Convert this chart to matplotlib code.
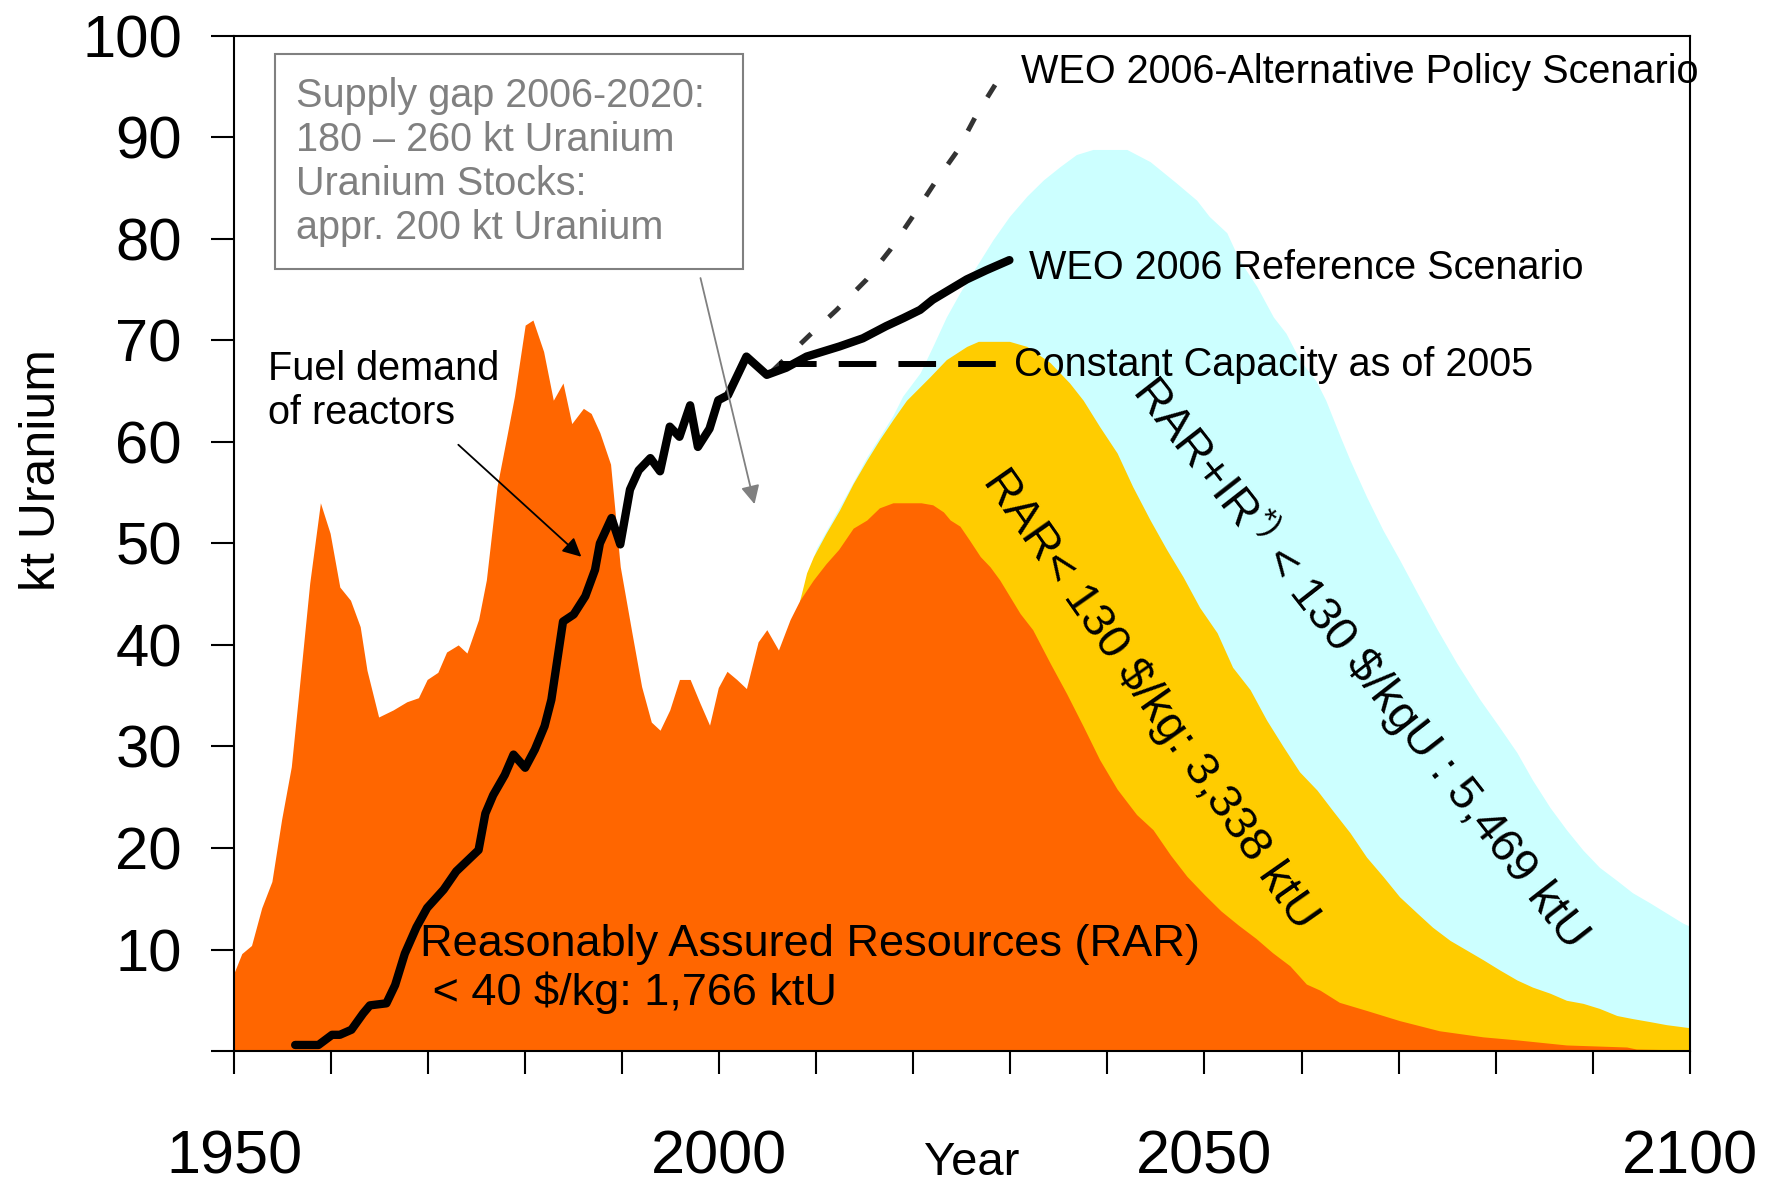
import numpy as np
import matplotlib
matplotlib.use("Agg")
import matplotlib.pyplot as plt
from matplotlib.patches import Rectangle

plt.rcParams['font.family'] = ['Liberation Sans', 'DejaVu Sans']
plt.rcParams['mathtext.fontset'] = 'custom'
plt.rcParams['mathtext.rm'] = 'Liberation Sans'
plt.rcParams['mathtext.it'] = 'Liberation Sans'

# historical uranium production (kt U)
hist_years = [1950.0, 1950.8, 1951.8, 1952.85, 1953.9, 1954.9, 1955.9, 1956.6, 1957.8, 1958.9,
              1959.9, 1960.9, 1962.0, 1963.0, 1963.7, 1964.9, 1966.4, 1967.8, 1969.0, 1969.9,
              1971.0, 1971.9, 1973.1, 1974.0, 1975.2, 1976.0, 1977.1, 1978.1, 1978.9, 1980.0,
              1980.8, 1981.9, 1982.9, 1983.9, 1984.8, 1986.0, 1986.8, 1987.7, 1988.8, 1989.8,
              1991.0, 1992.0, 1993.0, 1993.9, 1994.9, 1995.9, 1997.0, 1998.0, 1999.0, 1999.9,
              2000.8, 2001.8, 2002.8, 2004.0, 2004.9, 2006.1, 2007.3]
hist_vals = [7.7, 9.6, 10.4, 14.1, 16.7, 22.8, 28.0, 34.6, 46.1, 54.0,
             51.0, 45.7, 44.4, 41.8, 37.5, 32.9, 33.6, 34.4, 34.8, 36.6,
             37.3, 39.3, 40.0, 39.2, 42.5, 46.4, 55.6, 60.5, 64.5, 71.5,
             72.0, 68.9, 64.1, 65.8, 61.8, 63.3, 62.8, 60.9, 57.8, 47.7,
             41.2, 35.9, 32.4, 31.6, 33.6, 36.6, 36.6, 34.3, 32.1, 35.8,
             37.4, 36.6, 35.7, 40.3, 41.5, 39.5, 42.5]

# RAR < 40 $/kg production profile
rar40_years = [2008.3, 2009.7, 2011.0, 2012.3, 2013.8, 2015.2, 2016.5, 2017.9, 2020.8, 2022.0,
               2023.1, 2023.8, 2024.8, 2025.8, 2026.9, 2027.9, 2028.9, 2031.0, 2032.3, 2034.1,
               2035.8, 2037.5, 2039.2, 2041.0, 2043.0, 2044.7, 2046.5, 2048.2, 2050.0, 2051.7,
               2053.5, 2055.3, 2057.0, 2058.8, 2060.5, 2061.9, 2063.9, 2066.7, 2070.1, 2074.2,
               2078.7, 2082.2, 2087.3, 2093.5, 2094.5, 2100.0]
rar40_vals = [44.4, 46.4, 48.0, 49.4, 51.5, 52.3, 53.5, 54.0, 54.0, 53.8,
              53.1, 52.3, 51.7, 50.3, 48.7, 47.7, 46.4, 43.1, 41.5, 38.2,
              35.2, 32.0, 28.7, 25.8, 23.3, 21.8, 19.3, 17.2, 15.4, 13.8,
              12.4, 11.1, 9.7, 8.4, 6.6, 6.0, 4.8, 4.0, 3.0, 2.0,
              1.4, 1.1, 0.6, 0.4, 0.2, 0.1]

# RAR < 130 $/kg
rar130_years = [2008.3, 2009.0, 2009.7, 2011.0, 2012.4, 2013.8, 2015.2, 2016.5, 2017.9, 2019.3,
                2021.7, 2023.4, 2025.5, 2026.7, 2029.9, 2031.7, 2034.1, 2036.1, 2037.5, 2039.2,
                2041.0, 2042.6, 2044.4, 2046.1, 2047.8, 2049.5, 2051.3, 2052.9, 2054.7, 2056.4,
                2058.1, 2059.8, 2061.6, 2063.2, 2065.0, 2066.7, 2068.4, 2070.1, 2071.9, 2073.5,
                2075.3, 2077.0, 2078.7, 2080.4, 2082.2, 2083.8, 2085.6, 2087.3, 2089.0, 2090.7,
                2092.5, 2094.1, 2095.9, 2097.6, 2100.0]
rar130_vals = [44.4, 47.1, 48.7, 51.0, 53.3, 55.9, 58.2, 60.2, 62.2, 64.1,
               66.4, 68.1, 69.4, 69.9, 69.9, 69.4, 67.8, 65.8, 64.1, 61.5,
               58.9, 55.6, 52.3, 49.4, 46.7, 43.7, 41.2, 37.8, 35.6, 32.6,
               30.0, 27.5, 25.7, 23.7, 21.5, 19.1, 17.2, 15.2, 13.6, 12.2,
               10.9, 9.95, 9.0, 8.0, 7.0, 6.3, 5.7, 5.0, 4.7, 4.2,
               3.5, 3.2, 2.9, 2.6, 2.3]

# RAR + IR < 130 $/kgU
rarir_years = [2008.3, 2010.0, 2012.4, 2015.2, 2017.9, 2018.9, 2020.7, 2022.0, 2023.4, 2024.8,
               2026.5, 2028.2, 2029.9, 2031.7, 2033.4, 2035.1, 2036.8, 2038.5, 2042.0, 2044.4,
               2047.1, 2049.2, 2050.5, 2052.3, 2053.6, 2055.4, 2057.1, 2058.4, 2059.8, 2061.5,
               2062.5, 2064.0, 2065.0, 2066.7, 2068.4, 2070.1, 2072.0, 2074.0, 2076.0, 2078.4,
               2080.4, 2082.2, 2083.8, 2085.6, 2087.3, 2089.0, 2090.7, 2092.5, 2094.1, 2095.9,
               2097.6, 2099.3, 2100.0]
rarir_vals = [44.6, 49.5, 53.6, 58.5, 62.6, 64.5, 66.8, 69.4, 72.3, 74.7,
              77.3, 79.9, 82.2, 84.2, 85.8, 87.1, 88.3, 88.8, 88.8, 87.6,
              85.5, 83.8, 82.2, 80.6, 77.9, 75.3, 72.3, 70.7, 68.1, 66.0,
              64.1, 60.5, 58.2, 54.6, 51.3, 48.4, 45.0, 41.5, 38.2, 34.6,
              31.9, 29.4, 26.7, 24.0, 21.8, 19.8, 18.1, 16.8, 15.6, 14.6,
              13.6, 12.6, 12.3]

# fuel demand of reactors, continued by WEO 2006 reference scenario
demand_years = [1956.3, 1958.7, 1960.1, 1960.9, 1962.1, 1963.3, 1964.0, 1965.7, 1966.6, 1967.6,
                1968.8, 1969.9, 1971.6, 1972.9, 1975.2, 1975.9, 1976.7, 1977.9, 1978.8, 1980.0,
                1981.0, 1982.0, 1982.7, 1983.9, 1985.0, 1986.2, 1987.2, 1987.7, 1988.9, 1989.8,
                1990.8, 1991.7, 1992.9, 1993.9, 1994.9, 1995.9, 1997.0, 1997.8, 1999.0, 1999.9,
                2000.9, 2001.8, 2002.8, 2004.9, 2006.9, 2009.0, 2012.4, 2014.8, 2016.2, 2017.2,
                2019.0, 2020.7, 2022.0, 2023.4, 2025.5, 2027.5, 2029.9]
demand_vals = [0.6, 0.6, 1.6, 1.6, 2.1, 3.7, 4.5, 4.7, 6.5, 9.6,
               12.2, 14.1, 15.9, 17.7, 19.8, 23.4, 25.2, 27.2, 29.2, 27.9,
               29.7, 32.0, 34.6, 42.3, 43.0, 44.8, 47.4, 50.0, 52.5, 49.9,
               55.3, 57.2, 58.4, 57.1, 61.5, 60.5, 63.6, 59.5, 61.3, 64.1,
               64.6, 66.4, 68.4, 66.6, 67.3, 68.4, 69.4, 70.2, 70.9, 71.4,
               72.2, 73.0, 74.0, 74.8, 76.0, 76.9, 77.9]

# WEO 2006 alternative policy scenario
alt_years = [2005.5, 2009.3, 2012.1, 2015.2, 2017.6, 2019.8, 2022.2, 2024.5, 2026.5, 2029.3]
alt_vals = [67.0, 70.5, 73.0, 76.0, 78.9, 82.0, 85.5, 88.6, 92.2, 96.5]

# constant capacity as of 2005
const_years = [2006.2, 2029.1]
const_vals = [67.7, 67.7]

fig = plt.figure(figsize=(17.73, 11.91), dpi=100)
ax = fig.add_axes([0.132, 0.1175, 0.821, 0.8525])

orange = '#FF6600'
yellow = '#FFCC00'
cyan = '#CCFFFF'

ax.fill_between(rarir_years, rarir_vals, 0, color=cyan, lw=0)
ax.fill_between(rar130_years, rar130_vals, 0, color=yellow, lw=0)
ax.fill_between(hist_years + rar40_years, hist_vals + rar40_vals, 0, color=orange, lw=0)

ax.plot(alt_years, alt_vals, color='#333333', lw=3.5, dashes=(3, 5))
ax.plot(const_years, const_vals, color='black', lw=4.3, dashes=(6.3, 3.7))
ax.plot(demand_years, demand_vals, color='black', lw=6, solid_capstyle='round',
        solid_joinstyle='round')

ax.set_xlim(1950, 2100)
ax.set_ylim(0, 100)

xt = np.arange(1950, 2101, 10)
ax.set_xticks(xt)
ax.set_xticklabels([str(v) if v % 50 == 0 else '' for v in xt])
yt = np.arange(0, 101, 10)
ax.set_yticks(yt)
ax.set_yticklabels(['' if v == 0 else str(v) for v in yt])
ax.tick_params(axis='x', direction='out', length=16.5, width=1.5, labelsize=44, pad=40)
ax.tick_params(axis='y', direction='out', length=16.5, width=1.5, labelsize=43, pad=21)
for s in ax.spines.values():
    s.set_linewidth(1.5)

ax.set_ylabel('kt Uranium', fontsize=36)
ax.yaxis.set_label_coords(-0.116, 0.572)
fig.text(972 / 1773, 1 - 1163 / 1191, 'Year', fontsize=34, ha='center', va='center')

# supply gap box
ax.add_patch(Rectangle((1954.2, 77.0), 48.2, 21.2, fill=False, edgecolor='#808080', lw=1.5))
ax.text(1956.4, 87.6, 'Supply gap 2006-2020:\n180 \u2013 260 kt Uranium\nUranium Stocks:\nappr. 200 kt Uranium',
        fontsize=28.5, color='#808080', ha='left', va='center', linespacing=1.2)
ax.annotate('', xy=(2003.7, 53.6), xytext=(1998.0, 76.4),
            arrowprops=dict(arrowstyle='-|>', color='#808080', lw=1.3, mutation_scale=28))

ax.text(1953.5, 65.0, 'Fuel demand\nof reactors', fontsize=28.5, ha='left', va='center',
        linespacing=1.2)
ax.annotate('', xy=(1986.0, 48.5), xytext=(1972.9, 59.9),
            arrowprops=dict(arrowstyle='-|>', color='black', lw=1.3, mutation_scale=28))

ax.text(2031.1, 96.4, 'WEO 2006-Alternative Policy Scenario', fontsize=28.5, ha='left', va='center')
ax.text(2031.9, 77.1, 'WEO 2006 Reference Scenario', fontsize=28.5, ha='left', va='center')
ax.text(2030.4, 67.6, 'Constant Capacity as of 2005', fontsize=28.5, ha='left', va='center')

ax.text(1969.2, 8.1, 'Reasonably Assured Resources (RAR)\n < 40 $/kg: 1,766 ktU', fontsize=32.5,
        ha='left', va='center', linespacing=1.18)
ax.text(2044.4, 34.6, 'RAR< 130 $/kg: 3,338 ktU', fontsize=34, rotation=-55,
        rotation_mode='anchor', ha='center', va='center')
ax.text(2066.2, 38.4, r'RAR+IR$^{*)}$ < 130 \$/kgU : 5,469 ktU', fontsize=34, rotation=-52,
        rotation_mode='anchor', ha='center', va='center')

fig.savefig('out.png', dpi=100)
